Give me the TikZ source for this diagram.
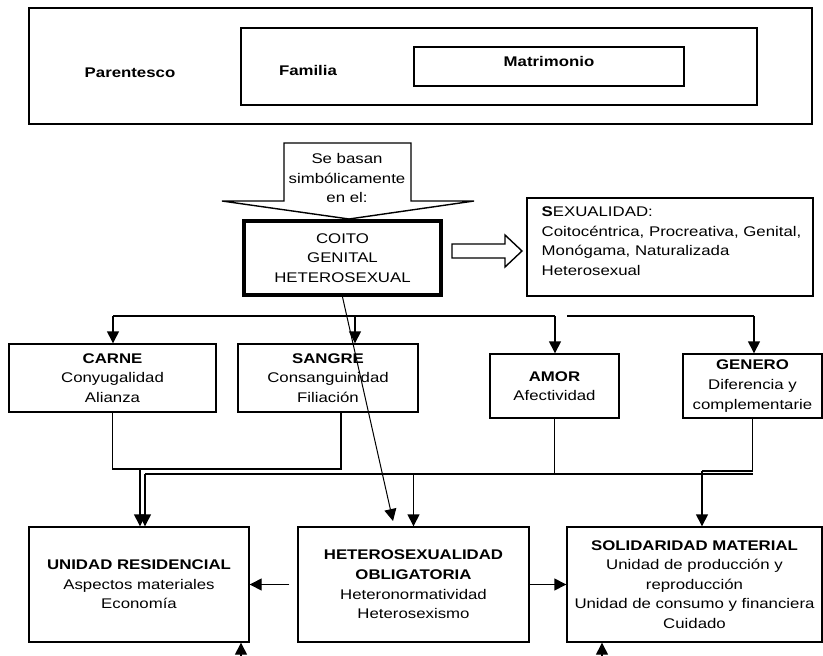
\documentclass[tikz,border=0pt]{standalone}
\usepackage{fontspec}
\setmainfont{Liberation Sans}[FakeStretch=1.2]
\usetikzlibrary{calc,arrows.meta}

\begin{document}
\begin{tikzpicture}[x=1pt,y=-1pt,line width=1.4pt,
        every node/.style={font=\fontsize{14}{19.6}\selectfont},
        box/.style={draw, align=center, inner sep=0pt},
        txt/.style={align=center, inner sep=0pt},
        arr/.style={-{Triangle[length=12pt,width=12pt]}}]
    \useasboundingbox (0,0) rectangle (823,656);

    % Parentesco / Familia / Matrimonio
    \node[box, minimum width=783, minimum height=116] (parentesco) at (420.5,66) {};
    \node[box, minimum width=516, minimum height=77] (familia) at (499,66.5) {};
    \node[box, minimum width=270, minimum height=39] (matrimonio) at (549,66.5) {};
    \node[txt] (parlbl) at (130,73) {\textbf{Parentesco}};
    \node[txt] (famlbl) at (308,70) {\textbf{Familia}};
    \node[txt] (matlbl) at (549,61) {\textbf{Matrimonio}};

    % Callout
    \draw (284,201) -- (284,143) -- (411,143) -- (411,201) -- (474,201) -- (349,219) -- (222,201) -- cycle;
    \node[txt] (basan) at (347,178) {Se basan\\simbólicamente\\en el:};

    % Coito
    \node[box, line width=4pt, minimum width=197, minimum height=74] (coito) at (342.5,258) {COITO\\GENITAL\\HETEROSEXUAL};

    % Hollow arrow
    \draw (452,244) -- (505,244) -- (505,235) -- (522,251) -- (505,267) -- (505,258) -- (452,258) -- cycle;

    % Sexualidad
    \node[box, minimum width=286, minimum height=98] (sexbox) at (670,247) {};
    \node[anchor=north west, align=left, inner sep=0pt] (sextxt) at (541,206)
        {\textbf{S}EXUALIDAD:\\Coitocéntrica, Procreativa, Genital,\\Monógama, Naturalizada\\Heterosexual};

    % Middle row
    \node[box, minimum width=207, minimum height=68] (carne) at (112.5,378) {\textbf{CARNE}\\Conyugalidad\\Alianza};
    \node[box, minimum width=180, minimum height=68] (sangre) at (328,378) {\textbf{SANGRE}\\Consanguinidad\\Filiación};
    \node[box, minimum width=129, minimum height=64] (amor) at (554.5,386) {\textbf{AMOR}\\Afectividad};
    \node[box, minimum width=139, minimum height=64] (genero) at (752.5,386) {\textbf{GENERO}\\Diferencia y\\complementarie};

    % Bottom row
    \node[box, minimum width=220, minimum height=115] (unidad) at (139,584.5) {\textbf{UNIDAD RESIDENCIAL}\\Aspectos materiales\\Economía};
    \node[box, minimum width=231, minimum height=115] (hetero) at (413.5,584.5) {\textbf{HETEROSEXUALIDAD}\\\textbf{OBLIGATORIA}\\Heteronormatividad\\Heterosexismo};
    \node[box, minimum width=255, minimum height=115] (soli) at (694.5,584.5) {\textbf{SOLIDARIDAD MATERIAL}\\Unidad de producción y\\reproducción\\Unidad de consumo y financiera\\Cuidado};

    % Upper bus
    \coordinate (b1) at (113,316);
    \coordinate (b2) at (355,316);
    \coordinate (b3) at (555,316);
    \coordinate (b4) at (567,316);
    \coordinate (b5) at (754,316);
    \draw (b1) -- (b3);
    \draw (b4) -- (b5);
    \draw[arr] (b1) -- (b1 |- carne.north);
    \draw[arr] (b2) -- (b2 |- sangre.north);
    \draw[arr] (b3) -- (b3 |- amor.north);
    \draw[arr] (b5) -- (b5 |- genero.north);

    % Lower bus
    \coordinate (j1) at (140,469);
    \coordinate (j2) at (145,474);
    \coordinate (j3) at (702,471);
    \draw (carne.south) |- (j1);
    \draw ($(sangre.south)+(13,0)$) |- (j1);
    \draw[arr] (j1) -- (j1 |- unidad.north);
    \draw (j2) -- (753,474);
    \draw[arr] (j2) -- (j2 |- unidad.north);
    \draw[arr] (hetero.north |- j2) -- (hetero.north);
    \draw (amor.south) -- (amor.south |- j2);
    \draw (genero.south) |- (j3);
    \draw[arr] (j3) -- (j3 |- soli.north);

    % Diagonal from coito
    \coordinate (d1) at (393,521);
    \draw[arr, line width=1pt] (coito.south) -- (d1);

    % Side arrows
    \draw[arr] ($(hetero.west)+(-8,0)$) -- (unidad.east);
    \draw[arr] (hetero.east) -- (soli.west);

    % Arrows from below
    \coordinate (u1) at (241,660);
    \coordinate (u2) at (602,660);
    \draw[arr] (u1) -- (u1 |- unidad.south);
    \draw[arr] (u2) -- (u2 |- soli.south);
\end{tikzpicture}
\end{document}
